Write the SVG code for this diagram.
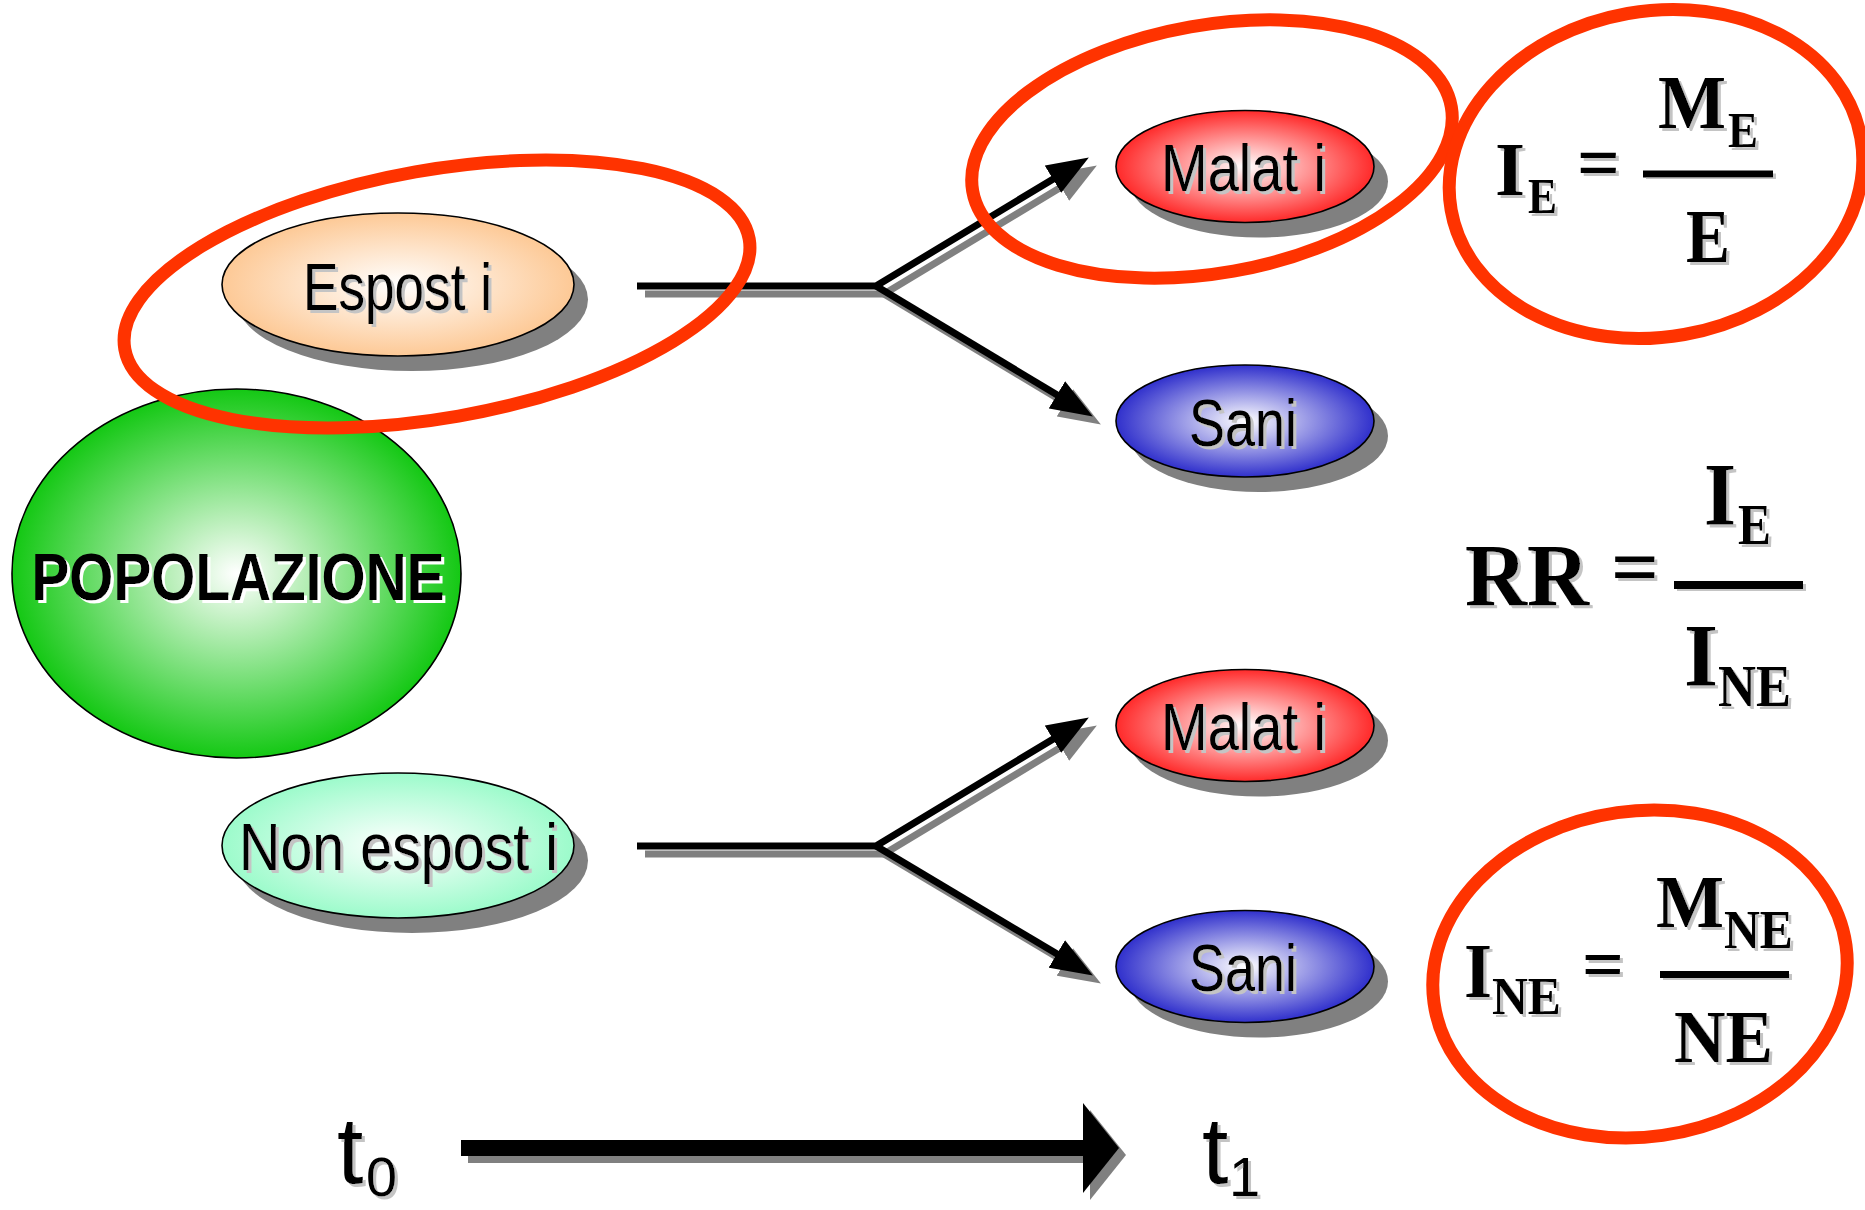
<svg xmlns="http://www.w3.org/2000/svg" width="1865" height="1210" viewBox="0 0 1865 1210">
<style>
.lbl{font-family:"Liberation Sans",Arial,sans-serif;font-size:67px;fill:#000;text-anchor:middle;filter:url(#tsh)}
.pop{font-family:"Liberation Sans",Arial,sans-serif;font-weight:bold;font-size:67px;fill:#000;text-anchor:middle;filter:url(#wsh)}
.f{font-family:"Liberation Serif","Times New Roman",serif;font-weight:bold;fill:#000;filter:url(#tsh)}
.t{font-family:"Liberation Sans",Arial,sans-serif;fill:#000;filter:url(#tsh)}
.sh{fill:#808080}
.edge{stroke:#000;stroke-width:1.6}
.hl{fill:none;stroke:#ff3300;stroke-width:13}
.ln{fill:none;stroke:#000;stroke-width:7;stroke-linejoin:miter}
.lns{fill:none;stroke:#808080;stroke-width:7;stroke-linejoin:miter}
</style>
<defs>
<filter id="tsh" x="-10%" y="-10%" width="130%" height="130%"><feDropShadow dx="3" dy="3" stdDeviation="0" flood-color="#c4c4c4"/></filter>
<filter id="wsh" x="-10%" y="-10%" width="130%" height="130%"><feDropShadow dx="3" dy="3" stdDeviation="0" flood-color="#ffffff"/></filter>
<radialGradient id="gPop" cx="50%" cy="50%" r="50%"><stop offset="0" stop-color="#ffffff"/><stop offset="1" stop-color="#14c814"/></radialGradient>
<radialGradient id="gEsp" cx="50%" cy="50%" r="50%"><stop offset="0" stop-color="#ffffff"/><stop offset="1" stop-color="#fdc996"/></radialGradient>
<radialGradient id="gNon" cx="50%" cy="50%" r="50%"><stop offset="0" stop-color="#ffffff"/><stop offset="1" stop-color="#9cfbcb"/></radialGradient>
<radialGradient id="gMal" cx="50%" cy="50%" r="50%"><stop offset="0" stop-color="#ffffff"/><stop offset="1" stop-color="#ff2a2a"/></radialGradient>
<radialGradient id="gSan" cx="50%" cy="50%" r="50%"><stop offset="0" stop-color="#ffffff"/><stop offset="1" stop-color="#3030cc"/></radialGradient>
<marker id="ah" viewBox="0 0 42 32" refX="16" refY="16" markerWidth="42" markerHeight="32" markerUnits="userSpaceOnUse" orient="auto"><path d="M0,0 L42,16 L0,32 Z" fill="#000"/></marker>
<marker id="ahs" viewBox="0 0 42 32" refX="16" refY="16" markerWidth="42" markerHeight="32" markerUnits="userSpaceOnUse" orient="auto"><path d="M0,0 L42,16 L0,32 Z" fill="#808080"/></marker>
</defs>
<rect width="1865" height="1210" fill="#fff"/>

<g id="popolazione">
<ellipse cx="236.5" cy="573.5" rx="224.5" ry="184.5" fill="url(#gPop)" class="edge"/>
<text class="pop" x="238" y="600" textLength="413" lengthAdjust="spacingAndGlyphs">POPOLAZIONE</text>
</g>

<g id="connectors">
<g transform="translate(8,8)">
<path class="lns" d="M637,286 H876 L1066.6,170.9" marker-end="url(#ahs)"/>
<path class="lns" d="M876,286 L1070.6,403.1" marker-end="url(#ahs)"/>
<path class="lns" d="M637,846 H876 L1066.6,730.9" marker-end="url(#ahs)"/>
<path class="lns" d="M876,846 L1070.6,962.1" marker-end="url(#ahs)"/>
</g>
<path class="ln" d="M637,286 H876 L1066.6,170.9" marker-end="url(#ah)"/>
<path class="ln" d="M876,286 L1070.6,403.1" marker-end="url(#ah)"/>
<path class="ln" d="M637,846 H876 L1066.6,730.9" marker-end="url(#ah)"/>
<path class="ln" d="M876,846 L1070.6,962.1" marker-end="url(#ah)"/>
</g>

<g id="esposti">
<ellipse class="sh" cx="412" cy="299.5" rx="176" ry="71.5"/>
<ellipse cx="398" cy="284.5" rx="176" ry="71.5" fill="url(#gEsp)" class="edge"/>
<text class="lbl" x="397.5" y="310" textLength="189" lengthAdjust="spacingAndGlyphs">Espost i</text>
</g>

<g id="non-esposti">
<ellipse class="sh" cx="412" cy="860.5" rx="176" ry="72.5"/>
<ellipse cx="398" cy="845.5" rx="176" ry="72.5" fill="url(#gNon)" class="edge"/>
<text class="lbl" x="398.5" y="870" textLength="319" lengthAdjust="spacingAndGlyphs">Non espost i</text>
</g>

<g id="malati-e">
<ellipse class="sh" cx="1259" cy="181.5" rx="129" ry="56"/>
<ellipse cx="1245" cy="166.5" rx="129" ry="56" fill="url(#gMal)" class="edge"/>
<text class="lbl" x="1243.5" y="191" textLength="165" lengthAdjust="spacingAndGlyphs">Malat i</text>
</g>

<g id="sani-e">
<ellipse class="sh" cx="1259" cy="436" rx="129" ry="56"/>
<ellipse cx="1245" cy="421" rx="129" ry="56" fill="url(#gSan)" class="edge"/>
<text class="lbl" x="1243" y="446" textLength="108" lengthAdjust="spacingAndGlyphs">Sani</text>
</g>

<g id="malati-ne">
<ellipse class="sh" cx="1259" cy="740.5" rx="129" ry="56"/>
<ellipse cx="1245" cy="725.5" rx="129" ry="56" fill="url(#gMal)" class="edge"/>
<text class="lbl" x="1243.5" y="750" textLength="165" lengthAdjust="spacingAndGlyphs">Malat i</text>
</g>

<g id="sani-ne">
<ellipse class="sh" cx="1259" cy="981.5" rx="129" ry="56"/>
<ellipse cx="1245" cy="966.5" rx="129" ry="56" fill="url(#gSan)" class="edge"/>
<text class="lbl" x="1243" y="991" textLength="108" lengthAdjust="spacingAndGlyphs">Sani</text>
</g>

<g id="formula-ie">
<text class="f" x="1495" y="195" font-size="76" textLength="30" lengthAdjust="spacingAndGlyphs">I</text>
<text class="f" x="1528" y="213" font-size="50" textLength="29" lengthAdjust="spacingAndGlyphs">E</text>
<text class="f" x="1577" y="188" font-size="76" textLength="43" lengthAdjust="spacingAndGlyphs">=</text>
<rect x="1643" y="170.5" width="130" height="7" fill="#000" filter="url(#tsh)"/>
<text class="f" x="1658" y="128" font-size="76" textLength="68" lengthAdjust="spacingAndGlyphs">M</text>
<text class="f" x="1728" y="147" font-size="51" textLength="30" lengthAdjust="spacingAndGlyphs">E</text>
<text class="f" x="1686" y="262" font-size="76" textLength="44" lengthAdjust="spacingAndGlyphs">E</text>
</g>

<g id="formula-rr">
<text class="f" x="1465" y="605" font-size="89" textLength="124" lengthAdjust="spacingAndGlyphs">RR</text>
<text class="f" x="1611" y="594" font-size="80" textLength="48" lengthAdjust="spacingAndGlyphs">=</text>
<rect x="1674" y="581" width="129" height="8" fill="#000" filter="url(#tsh)"/>
<text class="f" x="1704" y="524" font-size="88" textLength="32" lengthAdjust="spacingAndGlyphs">I</text>
<text class="f" x="1738" y="544" font-size="57" textLength="33" lengthAdjust="spacingAndGlyphs">E</text>
<text class="f" x="1684" y="685" font-size="88" textLength="34" lengthAdjust="spacingAndGlyphs">I</text>
<text class="f" x="1718" y="706" font-size="59" textLength="73" lengthAdjust="spacingAndGlyphs">NE</text>
</g>

<g id="formula-ine">
<text class="f" x="1464" y="997" font-size="78" textLength="28" lengthAdjust="spacingAndGlyphs">I</text>
<text class="f" x="1492" y="1014" font-size="53" textLength="69" lengthAdjust="spacingAndGlyphs">NE</text>
<text class="f" x="1582" y="988" font-size="72" textLength="42" lengthAdjust="spacingAndGlyphs">=</text>
<rect x="1660" y="971" width="129" height="7" fill="#000" filter="url(#tsh)"/>
<text class="f" x="1656" y="927" font-size="75" textLength="68" lengthAdjust="spacingAndGlyphs">M</text>
<text class="f" x="1724" y="948" font-size="54" textLength="69" lengthAdjust="spacingAndGlyphs">NE</text>
<text class="f" x="1674" y="1062" font-size="75" textLength="99" lengthAdjust="spacingAndGlyphs">NE</text>
</g>

<g id="time-arrow">
<g transform="translate(7,7)" fill="#808080">
<rect x="461" y="1140" width="624" height="16"/>
<path d="M1083,1103 L1119,1148 L1083,1193 Z"/>
</g>
<rect x="461" y="1140" width="624" height="16" fill="#000"/>
<path d="M1083,1103 L1119,1148 L1083,1193 Z" fill="#000"/>
</g>

<g id="t0">
<text class="t" font-size="95" x="337" y="1183">t</text>
<text class="t" font-size="56" x="366" y="1196">0</text>
</g>
<g id="t1">
<text class="t" font-size="95" x="1202" y="1183">t</text>
<text class="t" font-size="56" x="1229" y="1196">1</text>
</g>

<g id="highlights">
<ellipse class="hl" cx="437" cy="294" rx="317" ry="124" transform="rotate(-10 437 294)"/>
<ellipse class="hl" cx="1212" cy="149" rx="243" ry="124" transform="rotate(-10 1212 149)"/>
<ellipse class="hl" cx="1656" cy="174" rx="208" ry="163" transform="rotate(-10 1656 174)"/>
<ellipse class="hl" cx="1640" cy="974" rx="208" ry="163" transform="rotate(-8 1640 974)"/>
</g>
</svg>
